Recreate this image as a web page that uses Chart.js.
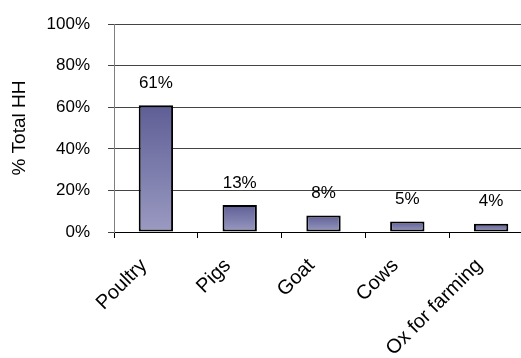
<!DOCTYPE html>
<html>
<head>
<meta charset="utf-8">
<script src="https://cdn.jsdelivr.net/npm/chart.js@4/dist/chart.umd.min.js"></script>
<style>
  html, body { margin: 0; padding: 0; background: #fff; overflow: hidden; }
  #wrap { width: 540px; height: 362px; margin-top: -4px; }
</style>
</head>
<body>
<div id="wrap"><canvas id="hhChart" width="540" height="362"></canvas></div>
<script>
var categories = ["Poultry", "Pigs", "Goat", "Cows", "Ox for farming"];
var shareHH = [61, 13, 8, 5, 4];
var yTicks = [0, 20, 40, 60, 80, 100];

Chart.defaults.font.family = "'Liberation Sans', Arial, sans-serif";
Chart.defaults.color = "#000";

// vertical gradient inside each bar, darker at the top
function barFill(context) {
    var chart = context.chart;
    if (!chart.chartArea) return "#7a7aaa";
    var y = chart.scales.y;
    var top = y.getPixelForValue(context.raw);
    var base = y.getPixelForValue(0);
    var g = chart.ctx.createLinearGradient(0, top, 0, base);
    g.addColorStop(0, "#5e5e96");
    g.addColorStop(1, "#9a9ac2");
    return g;
}

var valueLabels = {
    id: "valueLabels",
    afterDatasetsDraw: function (chart) {
        var ctx = chart.ctx;
        var meta = chart.getDatasetMeta(0);
        ctx.save();
        ctx.font = "17px 'Liberation Sans', Arial, sans-serif";
        ctx.fillStyle = "#000";
        ctx.textAlign = "center";
        ctx.textBaseline = "middle";
        meta.data.forEach(function (bar, i) {
            ctx.fillText(shareHH[i] + "%", bar.x, bar.y - 22);
        });
        ctx.restore();
    }
};

new Chart(document.getElementById("hhChart").getContext("2d"), {
    type: "bar",
    data: {
        labels: categories,
        datasets: [{
            data: shareHH,
            backgroundColor: barFill,
            borderColor: "#000",
            borderWidth: 2,
            borderSkipped: false,
            categoryPercentage: 1,
            barPercentage: 0.41
        }]
    },
    options: {
        responsive: false,
        animation: false,
        layout: { padding: { top: 22, right: 7, left: 0, bottom: 0 } },
        plugins: {
            legend: { display: false },
            tooltip: { enabled: false }
        },
        scales: {
            x: {
                grid: { drawOnChartArea: false, drawTicks: true, tickLength: 6, color: "#000" },
                border: { color: "#000", width: 1 },
                ticks: {
                    minRotation: 45,
                    maxRotation: 45,
                    padding: 16,
                    labelOffset: -12,
                    font: { size: 20 },
                    color: "#000"
                },
                afterFit: function (scale) { scale.height = 126; }
            },
            y: {
                min: 0,
                max: 100,
                afterBuildTicks: function (scale) {
                    scale.ticks = yTicks.map(function (v) { return { value: v }; });
                },
                grid: { color: "#444", lineWidth: 1, tickLength: 6 },
                border: { color: "#808080", width: 1 },
                ticks: {
                    padding: 18,
                    font: { size: 17 },
                    color: "#000",
                    callback: function (v) { return v + "%"; }
                },
                title: {
                    display: true,
                    text: "% Total HH",
                    font: { size: 19 },
                    color: "#000",
                    padding: { top: 8, bottom: 0 }
                },
                afterFit: function (scale) { scale.width = 114; }
            }
        }
    },
    plugins: [valueLabels]
});
</script>
</body>
</html>
